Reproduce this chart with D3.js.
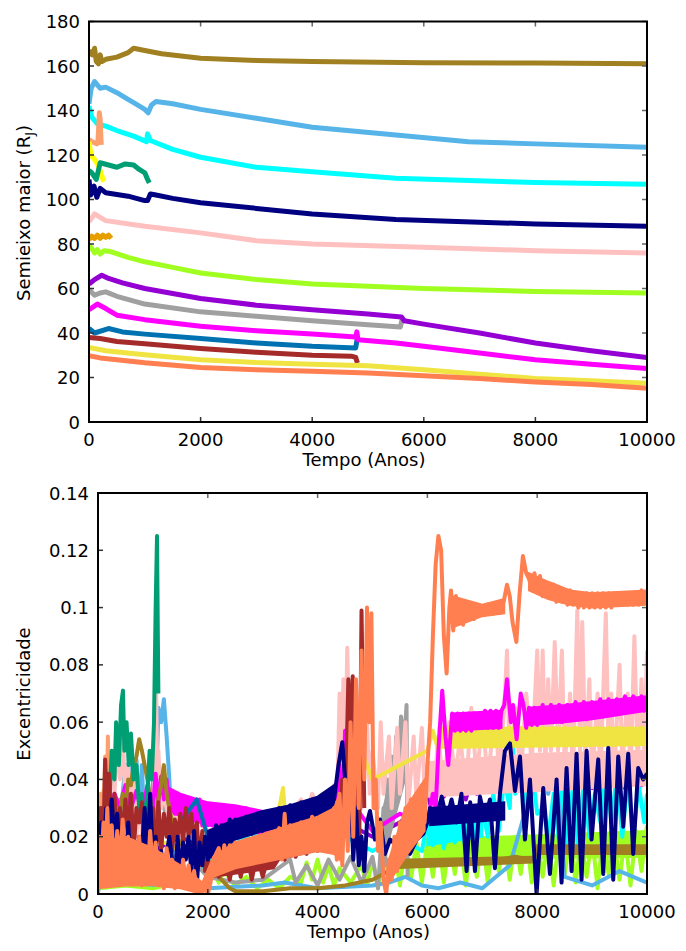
<!DOCTYPE html>
<html>
<head>
<meta charset="utf-8">
<script src="https://d3js.org/d3.v7.min.js"></script>
<style>
  body { margin: 0; background: #fff; }
  text { font-family: "DejaVu Sans", sans-serif; fill: #000; }
</style>
</head>
<body>
<div id="chart"></div>
<script>

// tick values
var xTicks = [0, 2000, 4000, 6000, 8000, 10000];
var aTicks = [0, 20, 40, 60, 80, 100, 120, 140, 160, 180];
var eTicks = [0, 0.02, 0.04, 0.06, 0.08, 0.1, 0.12, 0.14];

// series colours (same planet = same colour in both panels)
var colors = {
  olive: "#a08020", lightblue: "#56b4e9", cyan: "#00ffff", salmon: "#fca06e",
  yellow2: "#ffff00", green: "#009e73", navy: "#000080", pink: "#ffc0c0",
  orange: "#e69f00", lime: "#a0ff20", violet: "#9400d3", gray: "#a0a0a0",
  magenta: "#ff00ff", blue: "#0072b2", brown: "#a52a2a", yellow: "#f0e442",
  coral: "#ff7f50"
};

// ---- semi-major axis (R_J) vs time (years) ----
var a_olive = [[0,167],[60,165],[100,168],[130,162],[170,161],[200,165],[230,162],[300,163],[500,164],[700,166],[800,168],[1000,167],[1300,165.5],[2000,163.5],[3000,162.5],[4000,162],[6000,161.5],[8000,161.3],[10000,161]];
var a_lightblue = [[0,143],[40,150],[100,153],[200,150],[300,150.5],[500,148],[700,145],[800,143.5],[1000,140.5],[1060,139],[1120,142.5],[1200,144],[1500,143],[2000,140.5],[3000,136.5],[4000,132.5],[5500,129],[6800,126],[8000,125],[10000,123.5]];
var a_cyan = [[0,142],[50,137],[150,134],[300,133],[500,131],[800,128.5],[1030,126],[1050,129.5],[1100,126.5],[1500,122.5],[2000,119],[3000,114.5],[4000,112.5],[5500,109.5],[8000,107.6],[10000,106.8]];
var a_salmon = [[0,127],[50,126],[100,125.5],[140,125],[160,126],[175,133],[185,139],[200,136],[210,130],[220,124.5]];
var a_yellow2 = [[0,126],[30,121],[60,119],[100,118],[150,116],[200,113],[250,109],[270,108]];
var a_green = [[0,113],[50,112],[130,109],[200,116.5],[350,115.5],[500,114.5],[650,116],[800,115.5],[900,113.5],[1000,112],[1050,109],[1080,107.5]];
var a_navy = [[0,109],[30,102],[90,106],[140,101],[200,105],[300,103],[700,101.5],[1000,99.5],[1050,99.5],[1100,102.5],[1200,102],[1500,100.5],[2000,98.5],[3000,96],[4000,93.5],[5500,91],[8000,89],[10000,88]];
var a_pink = [[0,90],[100,93.5],[200,92],[300,90.5],[1000,88],[2000,85],[3000,81.5],[4000,80],[6000,78.5],[8000,77],[10000,76]];
var a_orange = [[0,82],[50,83.5],[100,82.5],[150,84],[200,82.5],[250,84],[300,83],[350,84],[400,82.5]];
var a_lime = [[0,79.5],[50,78],[100,76],[150,77.5],[200,75.5],[270,77],[400,76.5],[700,74],[1000,72],[1500,69.5],[2000,67],[3000,64],[4000,62],[6000,60],[8000,58.7],[10000,58]];
var a_violet = [[0,62],[100,64],[230,66],[350,64.5],[600,62.5],[1000,60],[2000,55.5],[3000,52.5],[4000,50.5],[5000,48.5],[5600,47.2],[5650,45.5],[6000,44],[7000,40],[8000,35.5],[9000,32],[10000,29]];
var a_gray = [[0,59.5],[100,57],[200,58],[300,58.5],[500,56.5],[1000,53],[2000,49.5],[3000,47.5],[4000,45.5],[5000,43.7],[5580,42.7],[5620,47]];
var a_magenta = [[0,50.5],[150,53],[300,51],[500,48],[1000,46],[2000,43],[3000,41],[4000,39.5],[4780,38.2],[4800,40.5],[4820,37],[5500,35.5],[6000,34],[7000,31],[8000,28],[9000,26],[10000,24]];
var a_blue = [[0,42],[100,40],[350,42],[600,40.5],[1000,39.5],[2000,37.5],[3000,35.5],[4000,34],[4780,33.3],[4810,38]];
var a_brown = [[0,38],[200,37.5],[500,36.2],[1000,35.2],[2000,33],[3000,31.3],[4000,30],[4700,29.6],[4780,29],[4810,26.5]];
var a_yellow = [[0,33.5],[300,32],[1000,30.2],[2000,28],[3000,26.7],[4000,26],[5000,25.3],[6000,23.5],[7000,21.5],[8000,19.6],[9000,18.5],[10000,17.4]];
var a_coral = [[0,29.8],[200,28.8],[500,28],[1000,26.6],[2000,24.5],[3000,23.5],[4000,22.8],[5000,22],[6000,20.8],[7000,19.5],[8000,18],[9000,16.8],[10000,15.2]];

// ---- eccentricity vs time (years) ----
var e_lime = [[0,0.002],[500,0.003],[1000,0.002],[1500,0.004],[2000,0.003],[2100,0.008],[2200,0.004],[2300,0.009],[2400,0.005],[2500,0.003],[2700,0.006],[2900,0.002],[3100,0.005],[3300,0.002],[3500,0.006],[3700,0.004],[3800,0.011],[3900,0.005],[4000,0.012],[4100,0.004],[4200,0.01],[4300,0.003],[4400,0.009],[4600,0.004],[4800,0.01],[4900,0.003],[5000,0.012],[5100,0.002],[5200,0.014],[5300,0.004],[5400,0.016],[5500,0.003],[5600,0.017],[5700,0.005],[5800,0.018],[5900,0.004],[6000,0.019],[6100,0.006],[6200,0.02],[6300,0.004],[6400,0.019],[6500,0.007],[6600,0.02],[6700,0.003],[6800,0.019],[6900,0.006],[7000,0.02],[7100,0.004],[7200,0.02],[7300,0.008],[7400,0.019],[7500,0.005],[7600,0.02],[7700,0.007],[7800,0.021],[7900,0.004],[8000,0.02],[8100,0.006],[8200,0.019],[8300,0.003],[8400,0.02],[8500,0.007],[8600,0.02],[8700,0.004],[8800,0.019],[8900,0.006],[9000,0.02],[9100,0.002],[9200,0.021],[9300,0.007],[9400,0.019],[9500,0.005],[9600,0.02],[9700,0.003],[9800,0.022],[9900,0.008],[10000,0.024]];
var e_cyan = [[0,0.003],[500,0.005],[1000,0.003],[1500,0.008],[2000,0.01],[2200,0.015],[2400,0.018],[2500,0.022],[2600,0.017],[2700,0.021],[2800,0.018],[2900,0.022],[3000,0.018],[3200,0.02],[3500,0.017],[3800,0.02],[4000,0.016],[4500,0.02],[5000,0.015],[5500,0.02],[5900,0.015],[6000,0.026],[6100,0.017],[6200,0.025],[6300,0.016],[6400,0.026],[6500,0.018],[6600,0.024],[6700,0.016],[6800,0.026],[6900,0.02],[7000,0.03],[7100,0.02],[7200,0.035],[7300,0.022],[7400,0.04],[7500,0.03],[7550,0.055],[7600,0.035],[7700,0.05],[7800,0.03],[7900,0.045],[8000,0.028],[8100,0.03],[8200,0.02],[8300,0.035],[8400,0.018],[8450,0.04],[8550,0.016],[8650,0.038],[8750,0.015],[8850,0.04],[8950,0.02],[9050,0.035],[9150,0.025],[9250,0.044],[9350,0.025],[9450,0.042],[9550,0.02],[9650,0.04],[9750,0.02],[9850,0.038],[9950,0.025],[10000,0.035]];
var e_lightblue = [[0,0],[100,0.02],[200,0.015],[300,0.03],[400,0.025],[500,0.045],[550,0.03],[600,0.05],[650,0.035],[700,0.047],[750,0.028],[800,0.045],[850,0.02],[900,0.03],[950,0.015],[1000,0.04],[1050,0.03],[1100,0.065],[1150,0.06],[1200,0.068],[1250,0.055],[1300,0.04],[1350,0.02],[1400,0.01],[1500,0.005],[2000,0.002],[3000,0.003],[3400,0.004],[4000,0.002],[5000,0.003],[5300,0.004],[5600,0.006],[5900,0.003],[6200,0.002],[6600,0.004],[7000,0.002],[7500,0.01],[7800,0.03],[8000,0.04],[8100,0.045],[8200,0.035],[8300,0.045],[8400,0.03],[8500,0.006],[9000,0.003],[9500,0.008],[10000,0.004]];
var e_violet = [[0,0.01],[500,0.02],[1000,0.015],[1500,0.02],[2000,0.015],[3000,0.02],[4000,0.018],[4500,0.025],[5000,0.02],[5500,0.025],[5800,0.03],[6000,0.035],[6100,0.028],[6200,0.04],[6300,0.034],[6400,0.044],[6500,0.036],[6600,0.042],[6700,0.033],[6800,0.04],[6900,0.035],[7000,0.045],[7100,0.038],[7200,0.046],[7300,0.036],[7400,0.042],[7500,0.037],[7650,0.046],[7800,0.037],[7950,0.045],[8100,0.038],[8250,0.047],[8400,0.038],[8550,0.046],[8700,0.039],[8850,0.046],[9000,0.037],[9150,0.045],[9300,0.038],[9450,0.046],[9600,0.037],[9750,0.046],[9900,0.038],[10000,0.044]];
var e_yellow = [[0,0.015],[200,0.02],[500,0.015],[1000,0.02],[1500,0.015],[2000,0.02],[2500,0.02],[3000,0.025],[3300,0.03],[3370,0.037],[3420,0.025],[3800,0.028],[4200,0.03],[4400,0.04],[4500,0.03],[4600,0.05],[4650,0.068],[4700,0.04],[4800,0.05],[5000,0.04],[5500,0.045],[6000,0.05],[6100,0.057],[6200,0.05],[6300,0.058],[6400,0.052],[6500,0.058],[6600,0.052],[6700,0.058],[6800,0.052],[6900,0.058],[7000,0.052],[7100,0.058],[7200,0.052],[7300,0.058],[7400,0.052],[7500,0.058],[7600,0.052],[7700,0.058],[7800,0.052],[7900,0.058],[8000,0.052],[8100,0.058],[8200,0.052],[8300,0.058],[8400,0.052],[8500,0.058],[8600,0.052],[8700,0.058],[8800,0.052],[8900,0.058],[9000,0.052],[9100,0.058],[9200,0.052],[9300,0.058],[9400,0.052],[9500,0.058],[9600,0.052],[9700,0.058],[9800,0.052],[9900,0.058],[10000,0.055]];
var e_gray = [[0,0.02],[100,0.025],[200,0.03],[300,0.025],[400,0.033],[500,0.028],[600,0.035],[700,0.03],[800,0.033],[900,0.025],[1000,0.032],[1100,0.036],[1200,0.03],[1300,0.025],[1400,0.03],[1500,0.02],[1600,0.015],[1800,0.01],[2000,0.006],[2500,0.004],[3000,0.005],[3500,0.012],[3600,0.004],[3800,0.01],[4000,0.003],[4200,0.012],[4400,0.005],[4600,0.013],[4800,0.004],[5000,0.013],[5100,0.002],[5200,0.03],[5230,0.01],[5270,0.04],[5300,0.02],[5350,0.048],[5380,0.028],[5430,0.055],[5460,0.035],[5520,0.062],[5550,0.042],[5620,0.066],[5640,0.006]];
var e_pink = [[0,0.01],[50,0.03],[100,0.02],[150,0.045],[200,0.03],[250,0.05],[300,0.035],[350,0.055],[400,0.04],[450,0.058],[500,0.03],[550,0.045],[600,0.025],[650,0.04],[700,0.02],[750,0.035],[800,0.02],[850,0.03],[900,0.015],[950,0.035],[1000,0.02],[1040,0.05],[1060,0.071],[1080,0.04],[1100,0.05],[1150,0.03],[1200,0.035],[1300,0.025],[1400,0.03],[1500,0.02],[1600,0.028],[2000,0.022],[2500,0.026],[3000,0.025],[3300,0.03],[3500,0.028],[3700,0.033],[3800,0.028],[3900,0.035],[4000,0.03],[4100,0.035],[4200,0.03],[4300,0.038],[4350,0.025],[4400,0.07],[4430,0.03],[4470,0.075],[4500,0.04],[4540,0.086],[4580,0.05],[4620,0.07],[4660,0.03],[4700,0.05],[4800,0.03],[4900,0.06],[4950,0.035],[5000,0.05],[5100,0.03],[5150,0.06],[5200,0.035],[5300,0.055],[5350,0.03],[5450,0.058],[5500,0.035],[5600,0.06],[5650,0.03],[5750,0.055],[5800,0.033],[5900,0.058],[5950,0.035],[6000,0.045],[6100,0.03],[6200,0.055],[6300,0.035],[6400,0.06],[6500,0.04],[6600,0.055],[6700,0.035],[6800,0.065],[6900,0.04],[7000,0.062],[7100,0.04],[7200,0.058],[7260,0.06],[7300,0.04],[7400,0.065],[7450,0.085],[7500,0.045],[7600,0.065],[7700,0.04],[7800,0.07],[7900,0.045],[8000,0.085],[8050,0.05],[8100,0.085],[8150,0.045],[8200,0.075],[8250,0.05],[8320,0.088],[8380,0.05],[8450,0.085],[8500,0.045],[8600,0.07],[8650,0.04],[8730,0.099],[8780,0.05],[8820,0.095],[8880,0.045],[8950,0.075],[9000,0.04],[9100,0.07],[9150,0.04],[9250,0.098],[9300,0.05],[9350,0.07],[9400,0.04],[9500,0.08],[9550,0.045],[9650,0.07],[9700,0.04],[9770,0.09],[9830,0.045],[9900,0.075],[9950,0.05],[10000,0.085]];
var e_magenta = [[0,0.02],[100,0.03],[200,0.025],[300,0.035],[400,0.03],[500,0.038],[600,0.03],[700,0.036],[800,0.028],[900,0.038],[1000,0.03],[1050,0.042],[1100,0.032],[1150,0.041],[1200,0.033],[1250,0.04],[1300,0.03],[1350,0.036],[1400,0.028],[1450,0.035],[1500,0.027],[1550,0.034],[1600,0.026],[1650,0.033],[1700,0.025],[1750,0.032],[1800,0.025],[1850,0.033],[1900,0.024],[1950,0.031],[2000,0.024],[2100,0.031],[2200,0.023],[2300,0.031],[2400,0.023],[2500,0.03],[2600,0.022],[2700,0.03],[2800,0.022],[2900,0.029],[3000,0.022],[3100,0.029],[3200,0.021],[3300,0.028],[3400,0.021],[3500,0.027],[3600,0.022],[3700,0.029],[3800,0.023],[3900,0.031],[4000,0.025],[4100,0.032],[4200,0.027],[4300,0.035],[4350,0.028],[4400,0.045],[4450,0.025],[4500,0.057],[4550,0.03],[4600,0.05],[4650,0.02],[4700,0.03],[5000,0.022],[5500,0.028],[6000,0.025],[6100,0.035],[6150,0.03],[6200,0.05],[6270,0.071],[6330,0.055],[6380,0.045],[6450,0.063],[6500,0.057],[6550,0.063],[6600,0.057],[6650,0.063],[6700,0.057],[6750,0.063],[6800,0.057],[6850,0.063],[6900,0.058],[6950,0.063],[7000,0.058],[7050,0.064],[7100,0.058],[7150,0.064],[7200,0.058],[7250,0.064],[7300,0.058],[7350,0.064],[7400,0.066],[7450,0.075],[7520,0.06],[7560,0.066],[7625,0.054],[7700,0.07],[7750,0.066],[7800,0.058],[7850,0.065],[7900,0.059],[7950,0.065],[8000,0.059],[8100,0.066],[8150,0.06],[8250,0.066],[8300,0.06],[8400,0.066],[8450,0.06],[8550,0.066],[8600,0.061],[8700,0.067],[8750,0.061],[8850,0.067],[8900,0.061],[9000,0.067],[9050,0.062],[9150,0.068],[9200,0.062],[9300,0.068],[9350,0.063],[9450,0.068],[9500,0.063],[9600,0.069],[9650,0.064],[9750,0.069],[9800,0.064],[9900,0.069],[9950,0.064],[10000,0.068]];
var e_olive = [[0,0.015],[50,0.025],[100,0.015],[150,0.03],[200,0.02],[250,0.033],[300,0.025],[350,0.03],[400,0.028],[450,0.035],[500,0.03],[550,0.04],[600,0.038],[650,0.045],[700,0.048],[750,0.054],[800,0.05],[850,0.045],[900,0.04],[950,0.033],[1000,0.028],[1050,0.025],[1100,0.033],[1150,0.038],[1200,0.045],[1250,0.035],[1300,0.03],[1350,0.025],[1400,0.02],[1500,0.018],[1600,0.015],[1700,0.014],[1800,0.012],[2000,0.012],[2100,0.009],[2200,0.006],[2300,0.004],[2400,0.002],[2500,0.001],[3000,0.001],[3500,0.002],[4000,0.002],[4500,0.003],[5000,0.005],[5300,0.008],[5400,0.011],[5600,0.01],[6000,0.011],[6500,0.011],[7000,0.011],[7300,0.012],[7600,0.013],[7900,0.012],[7950,0.013],[8000,0.016],[8500,0.016],[9000,0.015],[9500,0.016],[10000,0.015]];
var e_orange = [[0,0.01],[100,0.02],[200,0.015],[300,0.02],[400,0.01]];
var e_yellow2 = [[0,0.015],[30,0.03],[60,0.02],[90,0.036],[120,0.025],[150,0.037],[180,0.02],[210,0.03],[240,0.015],[270,0.025]];
var e_salmon = [[0,0.02],[50,0.035],[100,0.025],[130,0.048],[160,0.03],[180,0.055],[200,0.03],[220,0.04]];
var e_green = [[0,0.01],[50,0.03],[100,0.02],[150,0.035],[200,0.03],[250,0.05],[300,0.04],[330,0.06],[380,0.045],[420,0.066],[455,0.071],[480,0.05],[520,0.06],[560,0.045],[600,0.056],[650,0.04],[700,0.045],[750,0.03],[800,0.035],[850,0.022],[900,0.035],[940,0.05],[980,0.04],[1020,0.06],[1050,0.1],[1075,0.125],[1090,0.09],[1100,0.07]];
var e_blue = [[0,0.01],[200,0.02],[500,0.015],[1000,0.02],[1500,0.025],[1800,0.033],[2000,0.02],[3000,0.015],[4000,0.02],[4500,0.025],[4800,0.02]];
var e_brown = [[0,0.01],[50,0.03],[100,0.02],[130,0.047],[160,0.03],[200,0.042],[250,0.02],[300,0.035],[350,0.015],[400,0.03],[450,0.02],[500,0.033],[550,0.02],[600,0.035],[650,0.015],[700,0.03],[750,0.025],[800,0.032],[850,0.015],[900,0.028],[950,0.02],[1000,0.03],[1050,0.012],[1100,0.032],[1150,0.015],[1200,0.028],[1250,0.02],[1300,0.03],[1350,0.015],[1400,0.026],[1450,0.02],[1500,0.028],[1550,0.018],[1600,0.03],[1650,0.02],[1700,0.028],[1750,0.018],[1800,0.025],[1850,0.01],[1900,0.022],[1950,0.008],[2000,0.012],[2050,0.006],[2100,0.013],[2200,0.006],[2300,0.014],[2400,0.005],[2500,0.015],[2600,0.006],[2700,0.015],[2800,0.005],[2900,0.014],[3000,0.006],[3100,0.013],[3200,0.01],[3300,0.018],[3400,0.012],[3500,0.02],[3600,0.013],[3700,0.02],[3800,0.014],[3900,0.022],[4000,0.015],[4100,0.022],[4200,0.016],[4300,0.024],[4400,0.02],[4450,0.04],[4500,0.025],[4560,0.075],[4600,0.05],[4640,0.076],[4680,0.03],[4720,0.05],[4760,0.02],[4800,0.099],[4830,0.06],[4850,0.03]];
var e_navy = [[0,0.02],[30,0.012],[60,0.025],[100,0.015],[150,0.03],[200,0.02],[250,0.033],[300,0.018],[350,0.028],[400,0.012],[450,0.022],[500,0.008],[550,0.025],[600,0.01],[650,0.018],[700,0.004],[750,0.02],[800,0.015],[850,0.03],[900,0.01],[950,0.035],[1000,0.012],[1050,0.02],[1100,0.005],[1150,0.015],[1200,0.008],[1300,0.02],[1400,0.004],[1450,0.02],[1500,0.006],[1550,0.018],[1600,0.012],[1650,0.02],[1700,0.008],[1750,0.022],[1800,0.003],[1850,0.018],[1900,0.01],[1950,0.02],[2000,0.012],[2050,0.022],[2100,0.015],[2150,0.024],[2200,0.016],[2250,0.024],[2300,0.018],[2400,0.026],[2450,0.019],[2500,0.026],[2600,0.02],[2700,0.027],[2800,0.021],[2900,0.028],[3000,0.022],[3100,0.029],[3200,0.023],[3300,0.03],[3400,0.024],[3500,0.031],[3600,0.025],[3700,0.032],[3800,0.026],[3900,0.033],[4000,0.027],[4100,0.034],[4200,0.028],[4250,0.036],[4300,0.033],[4380,0.045],[4450,0.053],[4500,0.04],[4550,0.025],[4600,0.035],[4650,0.012],[4700,0.03],[4750,0.01],[4800,0.02],[4850,0.008],[4900,0.025],[4954,0.029],[5045,0.019],[5136,0.026],[5227,0.014],[5318,0.019],[5440,0.017],[5561,0.02],[5682,0.014],[5804,0.019],[5925,0.021],[6016,0.026],[6047,0.03],[6168,0.027],[6260,0.034],[6350,0.026],[6440,0.033],[6532,0.025],[6620,0.035],[6714,0.008],[6780,0.032],[6866,0.008],[6957,0.034],[7048,0.026],[7139,0.033],[7230,0.009],[7321,0.035],[7412,0.05],[7504,0.0526],[7595,0.036],[7686,0.048],[7777,0.019],[7868,0.04],[7989,0.0],[8110,0.037],[8232,0.007],[8353,0.04],[8444,0.004],[8535,0.044],[8626,0.008],[8717,0.049],[8808,0.005],[8900,0.05],[8990,0.019],[9112,0.047],[9203,0.007],[9294,0.051],[9385,0.005],[9476,0.048],[9567,0.0235],[9658,0.049],[9749,0.014],[9840,0.044],[9931,0.04],[10000,0.042]];
var e_coral = [[0,0.005],[30,0.02],[60,0.008],[100,0.025],[130,0.01],[170,0.03],[200,0.012],[250,0.024],[300,0.005],[350,0.022],[400,0.01],[450,0.026],[500,0.008],[550,0.02],[600,0.004],[650,0.018],[700,0.006],[750,0.02],[800,0.003],[850,0.016],[900,0.005],[950,0.022],[1000,0.008],[1050,0.018],[1100,0.004],[1150,0.014],[1200,0.002],[1250,0.016],[1300,0.006],[1350,0.012],[1400,0.002],[1450,0.01],[1500,0.003],[1550,0.012],[1600,0.004],[1650,0.01],[1700,0.002],[1750,0.008],[1800,0.001],[1850,0.004],[1950,0.002],[2000,0.0],[2050,0.004],[2100,0.012],[2200,0.016],[2250,0.009],[2300,0.017],[2350,0.01],[2400,0.017],[2450,0.009],[2500,0.018],[2600,0.011],[2700,0.019],[2800,0.011],[2900,0.02],[3000,0.012],[3100,0.021],[3200,0.013],[3300,0.023],[3350,0.012],[3400,0.028],[3450,0.013],[3500,0.024],[3600,0.014],[3700,0.025],[3800,0.015],[3900,0.027],[4000,0.015],[4100,0.027],[4200,0.016],[4300,0.03],[4350,0.012],[4400,0.035],[4450,0.01],[4500,0.04],[4550,0.015],[4600,0.06],[4650,0.02],[4700,0.075],[4750,0.03],[4800,0.085],[4850,0.04],[4900,0.1],[4940,0.06],[4980,0.098],[5020,0.03],[5060,0.04],[5100,0.015],[5150,0.025],[5200,0.005],[5250,0.0],[5300,0.012],[5350,0.005],[5400,0.02],[5450,0.008],[5500,0.025],[5550,0.012],[5600,0.03],[5650,0.015],[5700,0.033],[5750,0.018],[5800,0.035],[5850,0.02],[5900,0.038],[5950,0.025],[6000,0.045],[6050,0.06],[6100,0.09],[6150,0.115],[6200,0.125],[6250,0.12],[6300,0.09],[6350,0.077],[6400,0.1],[6430,0.106],[6470,0.092],[6520,0.104],[6560,0.095],[6600,0.1],[6650,0.094],[6700,0.101],[6750,0.097],[6800,0.1],[6850,0.096],[6900,0.101],[7000,0.098],[7100,0.101],[7200,0.098],[7300,0.101],[7350,0.099],[7400,0.103],[7450,0.108],[7500,0.104],[7550,0.095],[7620,0.088],[7680,0.105],[7740,0.118],[7800,0.112],[7850,0.11],[7900,0.107],[7950,0.112],[8000,0.106],[8050,0.111],[8100,0.104],[8150,0.109],[8200,0.104],[8300,0.108],[8350,0.102],[8400,0.107],[8450,0.102],[8500,0.106],[8550,0.101],[8600,0.106],[8650,0.101],[8700,0.105],[8750,0.1],[8800,0.105],[8850,0.1],[8900,0.105],[8950,0.1],[9000,0.105],[9050,0.1],[9100,0.105],[9150,0.1],[9200,0.105],[9250,0.1],[9300,0.105],[9350,0.1],[9400,0.105],[9450,0.101],[9500,0.105],[9550,0.101],[9600,0.105],[9650,0.101],[9700,0.105],[9750,0.101],[9800,0.105],[9850,0.101],[9900,0.106],[9950,0.102],[10000,0.105]];

// envelopes [t, min, max] of the fast oscillation, where it reads as a solid band
var b_coral = [[0,0.002,0.018],[500,0.003,0.02],[1000,0.003,0.016],[1500,0.002,0.01],[1900,0,0.004],[2100,0.006,0.013],[2500,0.009,0.018],[3000,0.011,0.021],[3500,0.013,0.024],[4000,0.015,0.027],[4300,0.014,0.03],[4400,0.012,0.035],null,[5300,0.004,0.012],[5600,0.013,0.03],[5950,0.022,0.04],null,[6450,0.093,0.104],[7000,0.097,0.101],[7400,0.098,0.103],null,[7850,0.106,0.112],[8200,0.103,0.109],[8600,0.101,0.106],[9000,0.1,0.105],[10000,0.101,0.106]];
var b_magenta = [[1300,0.029,0.037],[1500,0.027,0.035],[2000,0.024,0.032],[2500,0.022,0.031],[3000,0.021,0.029],[3500,0.021,0.028],[4000,0.024,0.032],[4300,0.027,0.035],null,[6450,0.057,0.063],[7350,0.058,0.064],null,[7850,0.059,0.065],[8500,0.06,0.066],[9000,0.061,0.067],[10000,0.064,0.069]];
var b_yellow = [[6200,0.051,0.058],[10000,0.052,0.058]];
var b_olive = [[5400,0.009,0.012],[7900,0.011,0.013],null,[8000,0.014,0.017],[10000,0.014,0.017]];
var b_navy = [[2000,0.012,0.022],[2500,0.019,0.026],[3000,0.022,0.029],[3500,0.024,0.031],[4000,0.027,0.034],[4300,0.03,0.038],null,[6050,0.024,0.03],[7400,0.026,0.032]];
var b_lime = [[6000,0.012,0.019],[10000,0.013,0.022]];
var b_cyan = [[6000,0.017,0.025],[7000,0.02,0.03]];
var b_pink = [[6000,0.034,0.046],[8000,0.036,0.049],[10000,0.038,0.05]];
var b_gray = [[5200,0.012,0.03],[5620,0.042,0.064]];
var b_brown = [[2100,0.006,0.013],[3200,0.009,0.016],[3300,0.012,0.018],[4400,0.017,0.024]];

// drawing order (last on top)
var topOrder = [
  ["olive", a_olive], ["lightblue", a_lightblue], ["cyan", a_cyan], ["salmon", a_salmon],
  ["yellow2", a_yellow2], ["green", a_green], ["navy", a_navy], ["pink", a_pink],
  ["orange", a_orange], ["lime", a_lime], ["gray", a_gray], ["violet", a_violet],
  ["blue", a_blue], ["magenta", a_magenta], ["brown", a_brown], ["yellow", a_yellow], ["coral", a_coral]
];
var bottomOrder = [
  ["lime", e_lime, b_lime], ["cyan", e_cyan, b_cyan], ["lightblue", e_lightblue], ["violet", e_violet],
  ["gray", e_gray, b_gray], ["pink", e_pink, b_pink], ["yellow", e_yellow, b_yellow], ["magenta", e_magenta, b_magenta],
  ["olive", e_olive, b_olive], ["orange", e_orange], ["yellow2", e_yellow2], ["salmon", e_salmon],
  ["green", e_green], ["blue", e_blue], ["brown", e_brown, b_brown], ["navy", e_navy, b_navy], ["coral", e_coral, b_coral]
];

var svg = d3.select("#chart").append("svg")
  .attr("width", 686).attr("height", 951);

function panel(opts) {
  var x = d3.scaleLinear().domain([0, 10000]).range([opts.left, opts.right]);
  var y = d3.scaleLinear().domain(opts.ydom).range([opts.bottom, opts.top]);
  var g = svg.append("g");

  g.append("clipPath").attr("id", opts.id)
    .append("rect").attr("x", opts.left).attr("y", opts.top)
    .attr("width", opts.right - opts.left).attr("height", opts.bottom - opts.top);

  var line = d3.line().x(function(d) { return x(d[0]); }).y(function(d) { return y(d[1]); });
  var area = d3.area()
    .defined(function(d) { return d !== null; })
    .x(function(d) { return x(d[0]); })
    .y0(function(d) { return y(d[1]); })
    .y1(function(d) { return y(d[2]); });
  var lines = g.append("g").attr("clip-path", "url(#" + opts.id + ")");
  opts.series.forEach(function(s) {
    if (s[2]) {
      lines.append("path")
        .attr("d", area(s[2]))
        .attr("fill", colors[s[0]])
        .attr("stroke", colors[s[0]])
        .attr("stroke-width", 2);
    }
    lines.append("path")
      .attr("d", line(s[1]))
      .attr("fill", "none")
      .attr("stroke", colors[s[0]])
      .attr("stroke-width", opts.lw)
      .attr("stroke-linejoin", "round");
  });

  // inward ticks on all four sides
  var tl = 5;
  xTicks.forEach(function(t) {
    g.append("line").attr("x1", x(t)).attr("x2", x(t)).attr("y1", opts.bottom).attr("y2", opts.bottom - tl).attr("stroke", "#333").attr("stroke-width", 1.5);
    g.append("line").attr("x1", x(t)).attr("x2", x(t)).attr("y1", opts.top).attr("y2", opts.top + tl).attr("stroke", "#666").attr("stroke-width", 1.5);
    g.append("text").attr("x", x(t)).attr("y", opts.bottom + 24)
      .attr("text-anchor", "middle").attr("font-size", 18).text(t);
  });
  opts.yticks.forEach(function(t) {
    g.append("line").attr("x1", opts.left).attr("x2", opts.left + tl).attr("y1", y(t)).attr("y2", y(t)).attr("stroke", "#333").attr("stroke-width", 1.5);
    g.append("line").attr("x1", opts.right).attr("x2", opts.right - tl).attr("y1", y(t)).attr("y2", y(t)).attr("stroke", "#666").attr("stroke-width", 1.5);
    g.append("text").attr("x", opts.left - 9).attr("y", y(t) + 6.5)
      .attr("text-anchor", "end").attr("font-size", 18).text(opts.fmt(t));
  });

  g.append("rect").attr("x", opts.left).attr("y", opts.top)
    .attr("width", opts.right - opts.left).attr("height", opts.bottom - opts.top)
    .attr("fill", "none").attr("stroke", "#000").attr("stroke-width", 2);

  g.append("text").attr("x", (opts.left + opts.right) / 2 - 4).attr("y", opts.bottom + 44)
    .attr("text-anchor", "middle").attr("font-size", 18).text("Tempo (Anos)");

  return g;
}

var gTop = panel({
  id: "clipTop", left: 89, right: 647, top: 21.5, bottom: 422,
  ydom: [0, 180], yticks: aTicks, fmt: function(d) { return d; },
  series: topOrder, lw: 5
});
var yl = gTop.append("text").attr("transform", "translate(30,213) rotate(-90)")
  .attr("text-anchor", "middle").attr("font-size", 18);
yl.append("tspan").text("Semieixo maior (R");
yl.append("tspan").attr("font-size", 13).attr("dy", 4).text("J");
yl.append("tspan").attr("dy", -4).text(")");

var gBot = panel({
  id: "clipBot", left: 98, right: 647, top: 493, bottom: 894,
  ydom: [0, 0.14], yticks: eTicks, fmt: function(d) { return d === 0 ? "0" : String(+d.toFixed(2)); },
  series: bottomOrder, lw: 4
});
gBot.append("text").attr("transform", "translate(30,694) rotate(-90)")
  .attr("text-anchor", "middle").attr("font-size", 18).text("Excentricidade");

</script>
</body>
</html>
